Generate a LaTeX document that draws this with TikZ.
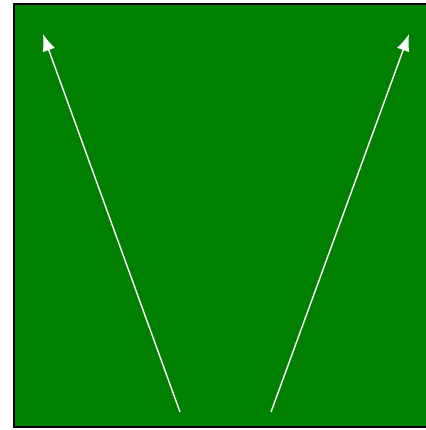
\documentclass[tikz,border=0pt]{standalone}
\usepackage{xcolor}
\usetikzlibrary{arrows.meta}
\definecolor{fieldgreen}{RGB}{0,128,0}
\begin{document}
\begin{tikzpicture}[x=1pt,y=-1pt,>={Latex[length=17pt,width=13pt]}]
 \useasboundingbox (0,0) rectangle (425,430);
 \draw[fill=fieldgreen,line width=1.6pt] (14,4) rectangle (432,427);
 \coordinate (lfoot) at (180,412);
 \coordinate (ltip) at (43,34);
 \coordinate (rfoot) at (271,412);
 \coordinate (rtip) at (409,34);
 \draw[->,white,line width=1.4pt] (lfoot)--(ltip);
 \draw[->,white,line width=1.4pt] (rfoot)--(rtip);
\end{tikzpicture}
\end{document}
